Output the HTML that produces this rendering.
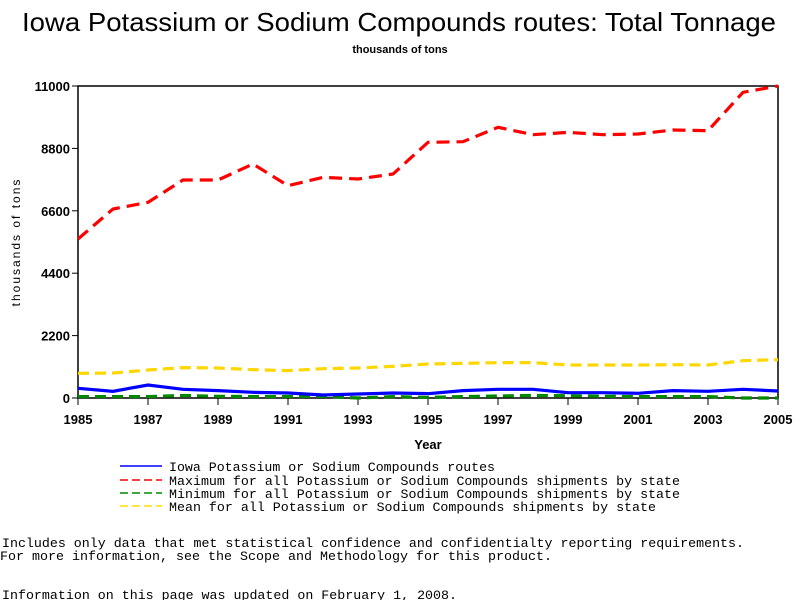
<!DOCTYPE html>
<html><head><meta charset="utf-8"><style>
body{margin:0;background:#fff;width:800px;height:600px;overflow:hidden}
svg text{font-family:"Liberation Sans",sans-serif}
.m{font-family:"Liberation Mono",monospace;font-size:13px}
</style></head><body>
<svg id="c" width="800" height="600">
<text x="22" y="31" font-size="26" textLength="754" lengthAdjust="spacingAndGlyphs">Iowa Potassium or Sodium Compounds routes: Total Tonnage</text>
<text x="400" y="53" text-anchor="middle" font-size="11" font-weight="bold">thousands of tons</text>
<rect x="78" y="86" width="700" height="312" fill="none" stroke="#000" stroke-width="1.5"/>
<text x="20" y="242" transform="rotate(-90 20 242)" text-anchor="middle" font-size="12" letter-spacing="2">thousands of tons</text>
<text x="428" y="449" text-anchor="middle" font-size="13" font-weight="bold">Year</text>
<g id="ax"></g><g id="ln"></g>
<g>
<line x1="120" y1="466" x2="162" y2="466" stroke="#00f" stroke-width="1.5"/>
<text class="m" x="169" y="471" textLength="326" lengthAdjust="spacingAndGlyphs">Iowa Potassium or Sodium Compounds routes</text>
<line x1="120" y1="480" x2="162" y2="480" stroke="#f00" stroke-width="1.5" stroke-dasharray="8,4"/>
<text class="m" x="169" y="485" textLength="511" lengthAdjust="spacingAndGlyphs">Maximum for all Potassium or Sodium Compounds shipments by state</text>
<line x1="120" y1="493" x2="162" y2="493" stroke="#080" stroke-width="1.5" stroke-dasharray="8,4"/>
<text class="m" x="169" y="498" textLength="511" lengthAdjust="spacingAndGlyphs">Minimum for all Potassium or Sodium Compounds shipments by state</text>
<line x1="120" y1="506" x2="162" y2="506" stroke="#fd0" stroke-width="1.5" stroke-dasharray="8,4"/>
<text class="m" x="169" y="511" textLength="487" lengthAdjust="spacingAndGlyphs">Mean for all Potassium or Sodium Compounds shipments by state</text>
</g>
<text class="m" x="2" y="547" textLength="742" lengthAdjust="spacingAndGlyphs">Includes only data that met statistical confidence and confidentialty reporting requirements.</text>
<text class="m" x="0" y="560" textLength="552" lengthAdjust="spacingAndGlyphs">For more information, see the Scope and Methodology for this product.</text>
<text class="m" x="2" y="599" textLength="455" lengthAdjust="spacingAndGlyphs">Information on this page was updated on February 1, 2008.</text>
</svg>
<script>
const years=[1985,1986,1987,1988,1989,1990,1991,1992,1993,1994,1995,1996,1997,1998,1999,2000,2001,2002,2003,2004,2005];
const iowa=[341,235,458,306,259,200,176,106,141,176,153,259,306,306,188,188,165,259,235,306,247];
const maxV=[5606,6663,6898,7686,7686,8250,7486,7780,7721,7897,9014,9037,9543,9284,9366,9284,9307,9449,9425,10776,11000];
const minV=[50,50,50,90,60,50,50,60,0,50,20,50,70,90,80,60,50,50,50,0,0];
const meanV=[870,880,987,1070,1058,999,964,1034,1058,1116,1199,1222,1246,1246,1163,1163,1163,1175,1163,1316,1351];
const yTicks=[0,2200,4400,6600,8800,11000];
const xTicks=[1985,1987,1989,1991,1993,1995,1997,1999,2001,2003,2005];
const X=v=>78+(v-1985)/20*700, Y=v=>398-v/11000*312;
const NS="http://www.w3.org/2000/svg",ax=document.getElementById('ax'),ln=document.getElementById('ln');
function mk(t,a,p){const e=document.createElementNS(NS,t);for(const k in a)e.setAttribute(k,a[k]);p.appendChild(e);return e;}
yTicks.forEach(v=>{const l=mk('line',{x1:72,x2:78,y1:Y(v),y2:Y(v),stroke:'#000'},ax);


const t=mk('text',{x:70,y:Y(v)+5,'text-anchor':'end','font-size':13,'font-weight':'bold'},ax);t.textContent=v;

});
xTicks.forEach(v=>{const l=mk('line',{x1:X(v),x2:X(v),y1:398,y2:405,stroke:'#000'},ax);


const t=mk('text',{x:X(v),y:424,'text-anchor':'middle','font-size':13,'font-weight':'bold'},ax);t.textContent=v;

});
function series(d,c,dash,name){const p=mk('polyline',{points:d.map((v,i)=>X(years[i])+','+Y(v)).join(' '),fill:'none',stroke:c,'stroke-width':3.2},ln);
if(dash)p.setAttribute('stroke-dasharray',dash);

}
series(meanV,'#ffd700','11,6','mean-line');
series(minV,'#080','11,6','min-line');
series(iowa,'#00f','','iowa-line');
series(maxV,'#f00','13,7','max-line');
</script>
</body></html>
